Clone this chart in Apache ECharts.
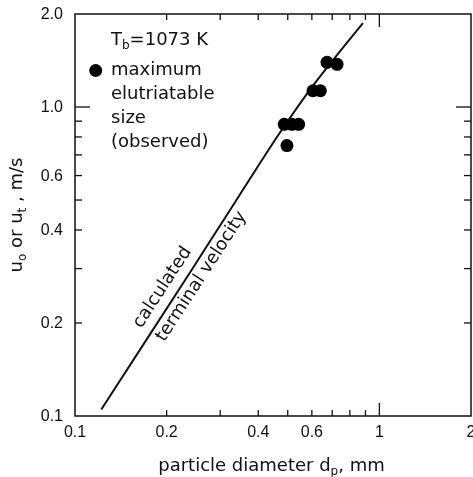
<!DOCTYPE html>
<html>
<head>
<meta charset="utf-8">
<script src="https://cdn.jsdelivr.net/npm/echarts@6/dist/echarts.min.js"></script>
<style>
    html, body { margin: 0; padding: 0; background: #fff; }
    #chart { width: 473px; height: 477px; }
</style>
</head>
<body>
<div id="chart"></div>
<script>
    // observed maximum elutriatable size (dp in mm, u in m/s)
    var observedDp = [0.487, 0.516, 0.543, 0.497, 0.605, 0.640, 0.673, 0.726];
    var observedU = [0.879, 0.879, 0.879, 0.750, 1.129, 1.129, 1.395, 1.375];

    // calculated terminal velocity curve
    var calcDp = [0.122, 0.239, 0.336, 0.461, 0.608, 0.883];
    var calcU = [0.105, 0.292, 0.493, 0.800, 1.180, 1.870];

    // axis ticks and labels
    var xMinorTicks = [0.2, 0.3, 0.4, 0.5, 0.6, 0.7, 0.8, 0.9];
    var xMajorTicks = [1];
    var yMinorTicks = [0.2, 0.3, 0.4, 0.5, 0.6, 0.7, 0.8, 0.9];
    var yMajorTicks = [1];
    var xTickValues = [0.1, 0.2, 0.4, 0.6, 1, 2];
    var xTickLabels = ['0.1', '0.2', '0.4', '0.6', '1', '2'];
    var yTickValues = [0.1, 0.2, 0.4, 0.6, 1, 2];
    var yTickLabels = ['0.1', '0.2', '0.4', '0.6', '1.0', '2.0'];

    var X_MIN = 0.1, X_MAX = 2, Y_MIN = 0.1, Y_MAX = 2;
    var INK = '#111';
    var TEXT_FONT = '18px "DejaVu Sans"';
    var TICK_FONT = '16px "Liberation Sans"';

    // ticks drawn inward on both sides of the box
    function tickSeries(values, dir, len) {
        return {
            type: 'custom',
            silent: true,
            z: 5,
            data: values.map(function (v) { return dir === 'x' ? [v, Y_MIN] : [X_MIN, v]; }),
            renderItem: function (params, api) {
                var a, b, lines;
                if (dir === 'x') {
                    a = api.coord([api.value(0), Y_MIN]);
                    b = api.coord([api.value(0), Y_MAX]);
                    lines = [[a[0], a[1], a[0], a[1] - len], [b[0], b[1], b[0], b[1] + len]];
                } else {
                    a = api.coord([X_MIN, api.value(1)]);
                    b = api.coord([X_MAX, api.value(1)]);
                    lines = [[a[0], a[1], a[0] + len, a[1]], [b[0], b[1], b[0] - len, b[1]]];
                }
                return {
                    type: 'group',
                    children: lines.map(function (l) {
                        return {
                            type: 'line',
                            shape: { x1: l[0], y1: l[1], x2: l[2], y2: l[3] },
                            style: { stroke: INK, lineWidth: 1.3 }
                        };
                    })
                };
            }
        };
    }

    function labelSeries(values, texts, dir) {
        return {
            type: 'custom',
            silent: true,
            data: values.map(function (v) { return dir === 'x' ? [v, Y_MIN] : [X_MIN, v]; }),
            renderItem: function (params, api) {
                var p = api.coord([api.value(0), api.value(1)]);
                var t = texts[params.dataIndex];
                if (dir === 'x') {
                    return { type: 'text', x: p[0], y: p[1] + 17,
                        style: { text: t, font: TICK_FONT, fill: INK, align: 'center', verticalAlign: 'middle' } };
                }
                return { type: 'text', x: p[0] - 12, y: p[1] + 1,
                    style: { text: t, font: TICK_FONT, fill: INK, align: 'right', verticalAlign: 'middle' } };
            }
        };
    }

    var subRich = {
        sub: { fontSize: 12, fontFamily: 'DejaVu Sans', verticalAlign: 'bottom', fill: INK }
    };

    var chart = echarts.init(document.getElementById('chart'));
    var option = {
        animation: false,
        backgroundColor: '#fff',
        grid: {
            left: 75, right: 2, top: 14, bottom: 61,
            show: true, borderColor: INK, borderWidth: 1.5
        },
        xAxis: {
            type: 'log', logBase: 10, min: X_MIN, max: X_MAX,
            axisLine: { show: false }, axisTick: { show: false },
            axisLabel: { show: false }, splitLine: { show: false }
        },
        yAxis: {
            type: 'log', logBase: 10, min: Y_MIN, max: Y_MAX,
            axisLine: { show: false }, axisTick: { show: false },
            axisLabel: { show: false }, splitLine: { show: false }
        },
        graphic: [
            {
                type: 'text', x: 111, y: 40,
                style: { text: 'T{sub|b}=1073 K', font: TEXT_FONT, fill: INK,
                    verticalAlign: 'middle', lineHeight: 24, rich: subRich }
            },
            { type: 'circle', shape: { cx: 95.7, cy: 70.5, r: 6.5 }, style: { fill: '#000' } },
            {
                type: 'text', x: 111, y: 58,
                style: { text: 'maximum\nelutriatable\nsize\n(observed)', font: TEXT_FONT,
                    fill: INK, lineHeight: 24, verticalAlign: 'top' }
            },
            {
                type: 'text', x: 162.5, y: 287.5, rotation: 57 * Math.PI / 180,
                style: { text: 'calculated', font: TEXT_FONT, fill: INK, align: 'center', verticalAlign: 'middle' }
            },
            {
                type: 'text', x: 201.5, y: 276.5, rotation: 57 * Math.PI / 180,
                style: { text: 'terminal velocity', font: TEXT_FONT, fill: INK, align: 'center', verticalAlign: 'middle' }
            },
            {
                type: 'text', x: 17, y: 215, rotation: Math.PI / 2,
                style: { text: 'u{sub|o} or u{sub|t} , m/s', font: TEXT_FONT, fill: INK,
                    align: 'center', verticalAlign: 'middle', lineHeight: 24, rich: subRich }
            },
            {
                type: 'text', x: 271.5, y: 466,
                style: { text: 'particle diameter d{sub|p}, mm', font: TEXT_FONT, fill: INK,
                    align: 'center', verticalAlign: 'middle', lineHeight: 24, rich: subRich }
            }
        ],
        series: [
            {
                type: 'line',
                name: 'calculated terminal velocity',
                data: calcDp.map(function (d, i) { return [d, calcU[i]]; }),
                showSymbol: false,
                smooth: 0.3,
                lineStyle: { color: INK, width: 2 },
                z: 2
            },
            {
                type: 'scatter',
                name: 'maximum elutriatable size (observed)',
                data: observedDp.map(function (d, i) { return [d, observedU[i]]; }),
                symbolSize: 13,
                itemStyle: { color: '#000', opacity: 1 },
                z: 3
            },
            tickSeries(xMinorTicks, 'x', 6),
            tickSeries(xMajorTicks, 'x', 13),
            tickSeries(yMinorTicks, 'y', 7),
            tickSeries(yMajorTicks, 'y', 15),
            labelSeries(xTickValues, xTickLabels, 'x'),
            labelSeries(yTickValues, yTickLabels, 'y')
        ]
    };
    chart.setOption(option);
</script>
</body>
</html>
